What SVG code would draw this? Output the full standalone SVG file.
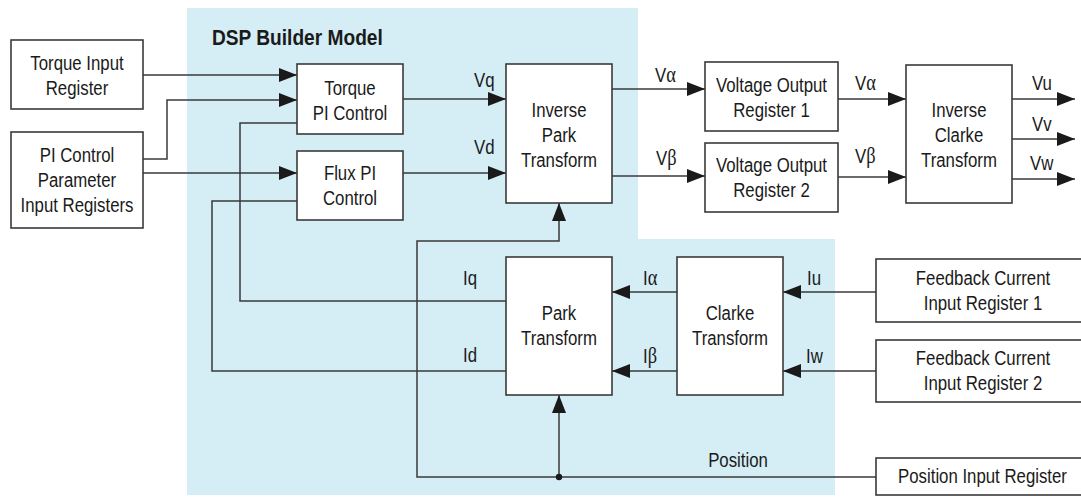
<svg xmlns="http://www.w3.org/2000/svg" width="1081" height="500" viewBox="0 0 1081 500">
<style>
.box{fill:#fff;stroke:#3a3a3a;stroke-width:1.6}
.ln{fill:none;stroke:#3a3a3a;stroke-width:1.5}
.arr{marker-end:url(#ah)}
.t{font-family:"Liberation Sans",Arial,sans-serif;font-size:21px;fill:#1a1a1a}
.c{text-anchor:middle}
.title{font-weight:bold;font-size:22px}
.g{font-family:"Liberation Serif","Times New Roman",serif;font-size:23px}
</style>
<defs>
<marker id="ah" viewBox="0 0 18 14" refX="18" refY="7" markerWidth="18" markerHeight="14" markerUnits="userSpaceOnUse" orient="auto"><path d="M0,0 L18,7 L0,14 z" fill="#1a1a1a"/></marker>
</defs>
<rect width="1081" height="500" fill="#fff"/>
<g id="dsp-model">
<path d="M187,8 H638 V239 H835 V495 H187 Z" fill="#d5edf5"/>
<text class="t title" transform="translate(212 45) scale(.87 1)">DSP Builder Model</text>
</g>
<g id="connectors">
<path class="ln arr" d="M143,75 H297"/>
<path class="ln arr" d="M143,159 H167 V100 H297"/>
<path class="ln arr" d="M143,173 H297"/>
<path class="ln arr" d="M403,99 H506"/>
<path class="ln arr" d="M403,173 H506"/>
<path class="ln arr" d="M612,89 H705"/>
<path class="ln arr" d="M612,176 H705"/>
<path class="ln arr" d="M838,99 H906"/>
<path class="ln arr" d="M838,177 H906"/>
<path class="ln arr" d="M1012,99 H1075"/>
<path class="ln arr" d="M1012,139 H1075"/>
<path class="ln arr" d="M1012,179 H1075"/>
<path class="ln" d="M297,123 H240 V301 H506"/>
<path class="ln" d="M297,201 H212 V371 H506"/>
<path class="ln arr" d="M876,477 H417 V241 H559 V203"/>
<path class="ln arr" d="M559,477 V395"/>
<circle cx="559" cy="477" r="3.2" fill="#1a1a1a"/>
<path class="ln arr" d="M677,292 H612"/>
<path class="ln arr" d="M677,371 H612"/>
<path class="ln arr" d="M876,292 H783"/>
<path class="ln arr" d="M876,371 H783"/>
<text class="t" transform="translate(474 87) scale(.8 1)">Vq</text>
<text class="t" transform="translate(474 154) scale(.8 1)">Vd</text>
<text class="t" transform="translate(655 82) scale(.8 1)">V<tspan class="g">α</tspan></text>
<text class="t" transform="translate(656 165) scale(.8 1)">V<tspan class="g">β</tspan></text>
<text class="t" transform="translate(855 90) scale(.8 1)">V<tspan class="g">α</tspan></text>
<text class="t" transform="translate(855 163) scale(.8 1)">V<tspan class="g">β</tspan></text>
<text class="t" transform="translate(1032 90) scale(.8 1)">Vu</text>
<text class="t" transform="translate(1032 131) scale(.8 1)">Vv</text>
<text class="t" transform="translate(1030 170) scale(.8 1)">Vw</text>
<text class="t" transform="translate(463 285) scale(.8 1)">Iq</text>
<text class="t" transform="translate(463 362) scale(.8 1)">Id</text>
<text class="t" transform="translate(643 285) scale(.8 1)">I<tspan class="g">α</tspan></text>
<text class="t" transform="translate(643 363) scale(.8 1)">I<tspan class="g">β</tspan></text>
<text class="t" transform="translate(807 285) scale(.8 1)">Iu</text>
<text class="t" transform="translate(806 363) scale(.8 1)">Iw</text>
<text class="t c" transform="translate(738 467) scale(.8 1)">Position</text>
</g>
<g id="torque-input">
<rect class="box" x="11" y="40" width="132" height="69"/>
<text class="t c" transform="translate(77 70) scale(.8 1)"><tspan x="0">Torque Input</tspan><tspan x="0" y="25">Register</tspan></text>
</g>
<g id="pi-param">
<rect class="box" x="11" y="132" width="132" height="96"/>
<text class="t c" transform="translate(77 162) scale(.8 1)"><tspan x="0">PI Control</tspan><tspan x="0" y="25">Parameter</tspan><tspan x="0" y="50">Input Registers</tspan></text>
</g>
<g id="torque-pi">
<rect class="box" x="297" y="64" width="106" height="70"/>
<text class="t c" transform="translate(350 95) scale(.8 1)"><tspan x="0">Torque</tspan><tspan x="0" y="25">PI Control</tspan></text>
</g>
<g id="flux-pi">
<rect class="box" x="297" y="151" width="106" height="69"/>
<text class="t c" transform="translate(350 180) scale(.8 1)"><tspan x="0">Flux PI</tspan><tspan x="0" y="25">Control</tspan></text>
</g>
<g id="inverse-park">
<rect class="box" x="506" y="64" width="106" height="139"/>
<text class="t c" transform="translate(559 117) scale(.8 1)"><tspan x="0">Inverse</tspan><tspan x="0" y="25">Park</tspan><tspan x="0" y="50">Transform</tspan></text>
</g>
<g id="vor1">
<rect class="box" x="705" y="62" width="133" height="69"/>
<text class="t c" transform="translate(771.5 92) scale(.8 1)"><tspan x="0">Voltage Output</tspan><tspan x="0" y="25">Register 1</tspan></text>
</g>
<g id="vor2">
<rect class="box" x="705" y="143" width="133" height="69"/>
<text class="t c" transform="translate(771.5 172) scale(.8 1)"><tspan x="0">Voltage Output</tspan><tspan x="0" y="25">Register 2</tspan></text>
</g>
<g id="inverse-clarke">
<rect class="box" x="906" y="65" width="106" height="138"/>
<text class="t c" transform="translate(959 117) scale(.8 1)"><tspan x="0">Inverse</tspan><tspan x="0" y="25">Clarke</tspan><tspan x="0" y="50">Transform</tspan></text>
</g>
<g id="park">
<rect class="box" x="506" y="257" width="106" height="138"/>
<text class="t c" transform="translate(559 320) scale(.8 1)"><tspan x="0">Park</tspan><tspan x="0" y="25">Transform</tspan></text>
</g>
<g id="clarke">
<rect class="box" x="677" y="257" width="106" height="138"/>
<text class="t c" transform="translate(730 320) scale(.8 1)"><tspan x="0">Clarke</tspan><tspan x="0" y="25">Transform</tspan></text>
</g>
<g id="fb1">
<rect class="box" x="876" y="259" width="210" height="63"/>
<text class="t c" transform="translate(983 285) scale(.8 1)"><tspan x="0">Feedback Current</tspan><tspan x="0" y="25">Input Register 1</tspan></text>
</g>
<g id="fb2">
<rect class="box" x="876" y="340" width="210" height="62"/>
<text class="t c" transform="translate(983 365) scale(.8 1)"><tspan x="0">Feedback Current</tspan><tspan x="0" y="25">Input Register 2</tspan></text>
</g>
<g id="position-input">
<rect class="box" x="876" y="458" width="210" height="37"/>
<text class="t c" transform="translate(982.5 483) scale(.8 1)">Position Input Register</text>
</g>
</svg>
